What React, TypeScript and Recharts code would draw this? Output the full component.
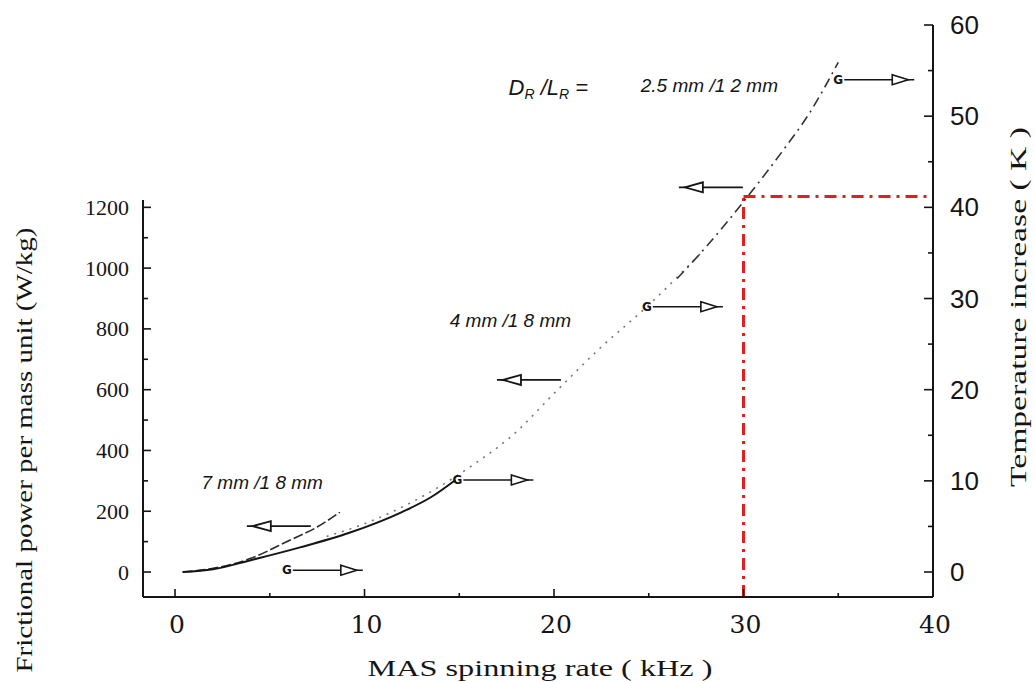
import React from "react";
import { ComposedChart, Line, Scatter, XAxis, YAxis, ReferenceLine } from "recharts";

// axis ranges (kHz, W/kg, K). 1 K on the right = 30 W/kg on the left
const X_MIN = -1.69;
const X_MAX = 40;
const W_MIN = -82.2;
const W_MAX = 1800;
const K_MIN = -2.74;
const K_MAX = 60;
const LEFT_AXIS_TOP = 1224;
const RED_LEVEL_K = 41.2;
const RED_RATE = 30;

const xTicks = [0, 5, 10, 15, 20, 25, 30, 35, 40];
const leftTicks = [0, 100, 200, 300, 400, 500, 600, 700, 800, 900, 1000, 1100, 1200];
const rightTicks = [0, 5, 10, 15, 20, 25, 30, 35, 40, 45, 50, 55, 60];

// 7 mm / 18 mm rotor, upper short curve (W/kg)
const rotor7PowerX = [0.4, 2, 4, 6, 7.5, 8.7];
const rotor7PowerW = [0, 12, 45, 103, 148, 197];

// 7 mm / 18 mm rotor, lower solid curve (K)
const rotor7TempX = [0.4, 2, 4, 6.6, 9.2, 12, 13.5, 14.8];
const rotor7TempK = [0, 0.3, 1.3, 2.7, 4.3, 6.6, 8.2, 10.1];

// 4 mm / 18 mm rotor, dotted curve (K)
const rotor4X = [8, 10, 12.8, 15.9, 17.7, 20.2, 22.4, 24.9, 27.9];
const rotor4K = [3.9, 5.3, 8.0, 12.0, 14.8, 20.0, 24.5, 29.1, 35.3];

// 2.5 mm / 12 mm rotor, dash-dot curve (K)
const rotor25X = [26.5, 28, 30.3, 32, 33.5, 35];
const rotor25K = [32.2, 35.6, 41.4, 46.0, 50.4, 55.9];

// arrows pointing to the temperature axis (start of arrow, K)
const rightArrowX = [5.9, 14.9, 24.9, 35.0];
const rightArrowK = [0.2, 10.1, 29.1, 54.0];

// arrows pointing to the power axis (arrow head, W/kg)
const leftArrowX = [4.0, 17.2, 26.8];
const leftArrowW = [151, 632, 1266];

const rotorLabels = ["7 mm /1 8 mm", "4 mm /1 8 mm", "2.5 mm /1 2 mm"];
const rotorLabelX = [4.6, 17.7, 28.2];
const rotorLabelK = [9.8, 27.6, 53.4];

const ratioLabelX = [19.7];
const ratioLabelK = [53.1];

const toPoints = (xs: number[], ys: number[], labels?: string[]) =>
  xs.map((x, i) => ({ x, y: ys[i], label: labels ? labels[i] : "" }));

const INK = "#151515";
const RED = "#e0201e";

function LeftTick({ x, y, payload }: any) {
  const v = payload.value;
  const major = v % 200 === 0;
  return (
    <g>
      <line x1={x} y1={y} x2={x + (major ? 8 : 5)} y2={y} stroke={INK} strokeWidth={1.6} />
      {major && (
        <text x={x - 14} y={y} textAnchor="end" dominantBaseline="central"
          fontFamily="Liberation Serif" fontSize={22} fill={INK}>{v}</text>
      )}
    </g>
  );
}

function RightTick({ x, y, payload }: any) {
  const v = payload.value;
  const major = v % 10 === 0;
  return (
    <g>
      <line x1={x} y1={y} x2={x - (major ? 9 : 5)} y2={y} stroke={INK} strokeWidth={1.6} />
      {major && (
        <text x={x + 17} y={y} textAnchor="start" dominantBaseline="central"
          fontFamily="Liberation Sans" fontSize={26} fill={INK}>{v}</text>
      )}
    </g>
  );
}

function BottomTick({ x, y, payload }: any) {
  const v = payload.value;
  const major = v % 10 === 0;
  return (
    <g>
      <line x1={x} y1={y} x2={x} y2={y - (major ? 8 : 4)} stroke={INK} strokeWidth={1.6} />
      {major && (
        <text x={x + 2} y={y + 27} textAnchor="middle" dominantBaseline="central"
          fontFamily="DejaVu Serif" fontSize={25} fill={INK}>{v}</text>
      )}
    </g>
  );
}

function RightArrow({ cx, cy }: any) {
  const L = 76;
  return (
    <g>
      <text x={cx} y={cy} textAnchor="middle" dominantBaseline="central" fontSize={12}
        fontWeight={700} fontFamily="DejaVu Sans" fill={INK}>G</text>
      <line x1={cx + 6} y1={cy} x2={cx + L} y2={cy} stroke={INK} strokeWidth={1.6} />
      <polygon points={`${cx + L - 22},${cy - 5} ${cx + L - 6},${cy} ${cx + L - 22},${cy + 5}`}
        fill="#fff" stroke={INK} strokeWidth={1.6} />
    </g>
  );
}

function LeftArrow({ cx, cy }: any) {
  const L = 60;
  return (
    <g>
      <line x1={cx - 4} y1={cy} x2={cx + L} y2={cy} stroke={INK} strokeWidth={1.8} />
      <polygon points={`${cx + 2},${cy} ${cx + 20},${cy - 5} ${cx + 20},${cy + 5}`}
        fill="#fff" stroke={INK} strokeWidth={1.8} />
    </g>
  );
}

function RotorLabel({ cx, cy, payload }: any) {
  return (
    <text x={cx} y={cy} textAnchor="middle" dominantBaseline="central" fontFamily="Liberation Sans"
      fontStyle="italic" fontSize={19} fill={INK}>{payload.label}</text>
  );
}

function RatioLabel({ cx, cy }: any) {
  return (
    <text x={cx} y={cy} textAnchor="middle" fontFamily="Liberation Sans" fontStyle="italic"
      fontSize={22} fill={INK} dy={7}>
      D<tspan fontSize={14} dy={4}>R</tspan>
      <tspan dy={-4}> /L</tspan>
      <tspan fontSize={14} dy={4}>R</tspan>
      <tspan dy={-4}> =</tspan>
    </text>
  );
}

const leftTitle = () => (
  <text x={24} y={450} transform="rotate(-90 24 450)" textAnchor="middle" dominantBaseline="central"
    fontFamily="Liberation Serif" fontSize={24} fill={INK} textLength={445} lengthAdjust="spacingAndGlyphs">
    Frictional power per mass unit (W/kg)
  </text>
);

const rightTitle = () => (
  <text x={1018} y={307} transform="rotate(-90 1018 307)" textAnchor="middle" dominantBaseline="central"
    fontFamily="Liberation Serif" fontSize={24} fill={INK} textLength={360} lengthAdjust="spacingAndGlyphs">
    Temperature increase ( K )
  </text>
);

const bottomTitle = () => (
  <text x={540} y={668} textAnchor="middle" dominantBaseline="central" fontFamily="Liberation Serif"
    fontSize={24} fill={INK} textLength={345} lengthAdjust="spacingAndGlyphs">
    MAS spinning rate ( kHz )
  </text>
);

export default function App() {
  return (
    <div style={{ position: "absolute", left: 0, top: 0, width: 1035, height: 682, background: "#fff" }}>
      <ComposedChart width={1035} height={682} margin={{ top: 25, right: 0, bottom: 0, left: 0 }}>
        <XAxis
          dataKey="x"
          type="number"
          domain={[X_MIN, X_MAX]}
          allowDataOverflow
          ticks={xTicks}
          interval={0}
          height={85}
          tickSize={0}
          tickMargin={0}
          tickLine={false}
          tick={<BottomTick />}
          axisLine={{ stroke: INK, strokeWidth: 2 }}
          label={bottomTitle}
        />
        <YAxis
          yAxisId="left"
          type="number"
          domain={[W_MIN, W_MAX]}
          allowDataOverflow
          ticks={leftTicks}
          interval={0}
          width={143}
          tickSize={0}
          tickMargin={0}
          tickLine={false}
          axisLine={false}
          tick={<LeftTick />}
          label={leftTitle}
        />
        <YAxis
          yAxisId="right"
          orientation="right"
          type="number"
          domain={[K_MIN, K_MAX]}
          allowDataOverflow
          ticks={rightTicks}
          interval={0}
          width={102}
          tickSize={0}
          tickMargin={0}
          tickLine={false}
          axisLine={{ stroke: INK, strokeWidth: 2 }}
          tick={<RightTick />}
          label={rightTitle}
        />

        {/* left axis line stops at the top of the power scale */}
        <ReferenceLine
          yAxisId="left"
          segment={[{ x: X_MIN, y: W_MIN }, { x: X_MIN, y: LEFT_AXIS_TOP }]}
          stroke={INK}
          strokeWidth={2}
          ifOverflow="visible"
        />

        {/* red guide at 30 kHz */}
        <ReferenceLine
          yAxisId="right"
          segment={[{ x: RED_RATE, y: K_MIN }, { x: RED_RATE, y: RED_LEVEL_K }]}
          stroke={RED}
          strokeWidth={3}
          strokeDasharray="12 6 3 6"
          ifOverflow="visible"
        />
        <ReferenceLine
          yAxisId="right"
          segment={[{ x: RED_RATE, y: RED_LEVEL_K }, { x: X_MAX, y: RED_LEVEL_K }]}
          stroke={RED}
          strokeWidth={3}
          strokeDasharray="12 6 3 6"
          ifOverflow="visible"
        />

        <Line
          yAxisId="left"
          data={toPoints(rotor7PowerX, rotor7PowerW)}
          dataKey="y"
          type="monotone"
          stroke="#2a2a2a"
          strokeWidth={1.6}
          strokeDasharray="10 3"
          dot={false}
          isAnimationActive={false}
        />
        <Line
          yAxisId="right"
          data={toPoints(rotor7TempX, rotor7TempK)}
          dataKey="y"
          type="monotone"
          stroke={INK}
          strokeWidth={2}
          dot={false}
          isAnimationActive={false}
        />
        <Line
          yAxisId="right"
          data={toPoints(rotor4X, rotor4K)}
          dataKey="y"
          type="monotone"
          stroke="#777"
          strokeWidth={1.6}
          strokeDasharray="2 6"
          dot={false}
          isAnimationActive={false}
        />
        <Line
          yAxisId="right"
          data={toPoints(rotor25X, rotor25K)}
          dataKey="y"
          type="monotone"
          stroke="#333"
          strokeWidth={1.6}
          strokeDasharray="10 5 2 5"
          dot={false}
          isAnimationActive={false}
        />

        <Scatter yAxisId="right" data={toPoints(rightArrowX, rightArrowK)} dataKey="y"
          shape={<RightArrow />} isAnimationActive={false} />
        <Scatter yAxisId="left" data={toPoints(leftArrowX, leftArrowW)} dataKey="y"
          shape={<LeftArrow />} isAnimationActive={false} />
        <Scatter yAxisId="right" data={toPoints(rotorLabelX, rotorLabelK, rotorLabels)} dataKey="y"
          shape={<RotorLabel />} isAnimationActive={false} />
        <Scatter yAxisId="right" data={toPoints(ratioLabelX, ratioLabelK)} dataKey="y"
          shape={<RatioLabel />} isAnimationActive={false} />
      </ComposedChart>
    </div>
  );
}
